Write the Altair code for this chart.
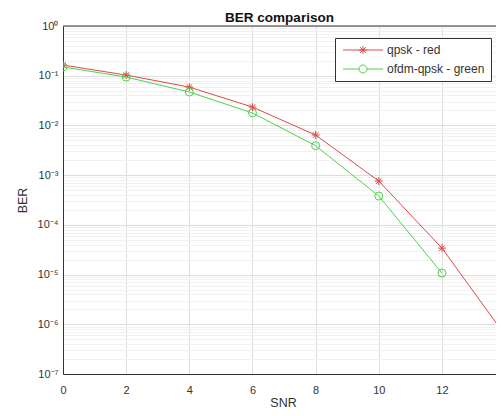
import altair as alt
import pandas as pd

# ---- data ----
SERIES = ["qpsk - red", "ofdm-qpsk - green"]
snr_qpsk = [0, 2, 4, 6, 8, 10, 12, 14]
ber_qpsk = [0.164, 0.103, 0.059, 0.0234, 0.0064, 7.6e-4, 3.4e-5, 6.0e-7]
snr_ofdm = [0, 2, 4, 6, 8, 10, 12]
ber_ofdm = [0.15, 0.094, 0.047, 0.0178, 0.0039, 3.8e-4, 1.07e-5]

x_ticks = [0, 2, 4, 6, 8, 10, 12, 14]
x_domain = [0, 13.71]          # the reference is cut off just before 14
y_decades = [1e-7, 1e-6, 1e-5, 1e-4, 1e-3, 1e-2, 1e-1, 1]
y_labels = ["10⁰", "10⁻¹", "10⁻²", "10⁻³", "10⁻⁴", "10⁻⁵", "10⁻⁶", "10⁻⁷"]
y_top = [1]                    # top frame of the axes box

RED = "#e04848"
GREEN = "#4fd04f"
FONT = "Liberation Sans"
TXT = "#333333"
FRAME = "#333333"

STAR = "M-1,0L1,0M0,-1L0,1M-0.7,-0.7L0.7,0.7M-0.7,0.7L0.7,-0.7"
LEG_RED = ("M-4,0L4,0M-0.8,0L0.8,0M0,-0.8L0,0.8"
           "M-0.56,-0.56L0.56,0.56M-0.56,0.56L0.56,-0.56")
LEG_GREEN = ("M-4,0L-0.8,0M0.8,0L4,0"
             "M0.8,0A0.8,0.8 0 1,1 -0.8,0A0.8,0.8 0 1,1 0.8,0")

rows = [{"series": SERIES[0], "snr": s, "ber": b} for s, b in zip(snr_qpsk, ber_qpsk)]
rows += [{"series": SERIES[1], "snr": s, "ber": b} for s, b in zip(snr_ofdm, ber_ofdm)]
df = pd.DataFrame(rows)

# all grid positions on the log axis (decades + minor 2..9)
y_vals = []
for d in y_decades[:-1]:
    for m in range(1, 10):
        y_vals.append(d * m)
y_vals.append(1)

is_major = "abs(log(datum.value)/LN10 - round(log(datum.value)/LN10)) < 0.01"
lab_arr = "[" + ",".join("'" + s + "'" for s in y_labels) + "]"
label_expr = f"{is_major} ? {lab_arr}[-round(log(datum.value)/LN10)] : ''"

x_scale = alt.Scale(domain=x_domain, nice=False, zero=False)
y_scale = alt.Scale(type="log", domain=[1e-7, 1], nice=False)

x_enc = alt.X(
    "snr:Q", scale=x_scale,
    axis=alt.Axis(
        values=x_ticks, title="SNR", ticks=False, labelPadding=10,
        labelFontSize=11, labelFont=FONT, labelColor=TXT, labelFlush=False,
        titleFontSize=12.5, titleFont=FONT, titleColor=TXT, titleFontWeight="normal",
        titleX=220, titleY=28, titleBaseline="middle",
        gridColor="#dedede", domainColor=FRAME, labelOverlap=False,
    ),
)
y_enc = alt.Y(
    "ber:Q", scale=y_scale,
    axis=alt.Axis(
        values=y_vals, labelExpr=label_expr, title="BER", ticks=False,
        labelPadding=5, labelFontSize=11, labelFont=FONT, labelColor=TXT,
        labelOverlap=False, labelBound=False, labelFlush=False,
        titleFontSize=12.5, titleFont=FONT, titleColor=TXT, titleFontWeight="normal",
        titleX=-41, titleY=174, titleAngle=270, titleAlign="center",
        titleBaseline="middle",
        gridColor={"condition": {"test": is_major, "value": "#dedede"}, "value": "#f1f1f1"},
        domainColor=FRAME,
    ),
)

base = alt.Chart(df)

red_line = base.transform_filter(alt.datum.series == SERIES[0]).mark_line(
    color=RED, strokeWidth=1, clip=True).encode(x=x_enc, y=y_enc)
red_pts = base.transform_filter(alt.datum.series == SERIES[0]).mark_point(
    shape=STAR, color=RED, filled=False, size=64, strokeWidth=1, opacity=1,
    clip=True).encode(x=x_enc, y=y_enc)
green_line = base.transform_filter(alt.datum.series == SERIES[1]).mark_line(
    color=GREEN, strokeWidth=1, clip=True).encode(x=x_enc, y=y_enc)
green_pts = base.transform_filter(alt.datum.series == SERIES[1]).mark_point(
    shape="circle", color=GREEN, filled=False, size=64, strokeWidth=1, opacity=1,
    clip=True).encode(x=x_enc, y=y_enc)

leg = alt.Legend(
    title=None, orient="none", legendX=272, legendY=12, direction="vertical",
    fillColor="white", strokeColor=FRAME, padding=6, rowPadding=7,
    symbolSize=100, symbolStrokeWidth=1, symbolOpacity=1, symbolOffset=16,
    labelOffset=18, labelFontSize=12, labelFont=FONT, labelColor=TXT,
)
# invisible layer that only carries the legend
legend_layer = base.mark_point(opacity=0, filled=False, strokeWidth=1, clip=True).encode(
    x=x_enc, y=y_enc,
    color=alt.Color("series:N", scale=alt.Scale(domain=SERIES, range=[RED, GREEN]), legend=leg),
    shape=alt.Shape("series:N", scale=alt.Scale(domain=SERIES, range=[LEG_RED, LEG_GREEN]), legend=leg),
)

# top edge of the axes box
top_frame = alt.Chart(pd.DataFrame({"ber": y_top})).mark_rule(
    color=FRAME, strokeWidth=1).encode(y=alt.Y("ber:Q", scale=y_scale))

chart = alt.layer(legend_layer, red_line, red_pts, green_line, green_pts, top_frame).properties(
    width=433, height=348,
    title=alt.TitleParams("BER comparison", fontSize=13.5, fontWeight="bold",
                          font=FONT, color="#111111", offset=0, dy=4, anchor="middle"),
    autosize=alt.AutoSizeParams(type="none"),
    padding={"left": 55, "top": 18, "right": 0, "bottom": 34},
    background="white",
).configure_view(stroke=None)

chart.save("out.html", embed_options={"renderer": "svg", "actions": False})
